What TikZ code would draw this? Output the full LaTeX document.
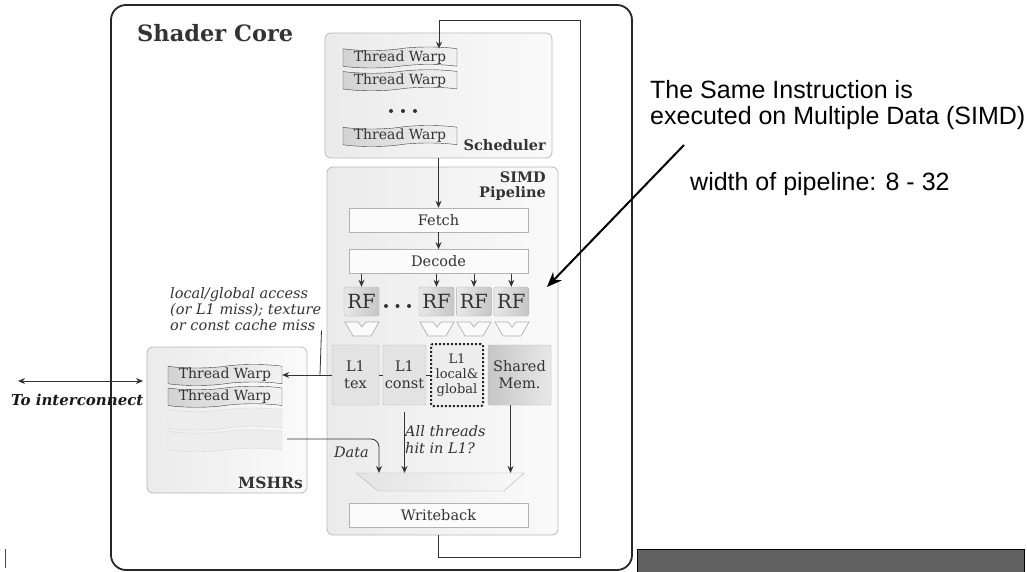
\documentclass[tikz,border=0pt]{standalone}
\usepackage{fontspec}
\setmainfont{DejaVu Serif}
\newfontfamily\notefont{Liberation Sans}
\usetikzlibrary{arrows.meta,shapes.symbols,shapes.geometric,positioning}

\begin{document}
\begin{tikzpicture}[
        x=1pt, y=-1pt,
        >={Stealth[length=7pt,width=6pt]},
        every node/.style={text=black!80, inner sep=0pt},
        core/.style={draw=black!85, line width=1.8pt, rounded corners=15pt, fill=white},
        panel/.style={draw=gray!55, line width=0.8pt, rounded corners=6pt, left color=gray!16, right color=gray!4},
        warp/.style={tape, draw=black!75, left color=gray!35, right color=gray!10, minimum width=114pt, minimum height=21pt, tape bend height=3.5pt, font=\fontsize{14}{14}\selectfont},
        ghost/.style={tape, draw=gray!30, fill=gray!14, minimum width=114pt, minimum height=22pt, tape bend height=3.5pt},
        stage/.style={draw=gray!60, fill=gray!3, minimum width=179pt, minimum height=24pt, font=\fontsize{14.5}{14.5}\selectfont},
        rf/.style={draw=gray!60, left color=gray!18, right color=gray!45, rounded corners=1.5pt, minimum width=35pt, minimum height=29pt, font=\fontsize{19.5}{19.5}\selectfont},
        cache/.style={draw=gray!55, fill=gray!22, rounded corners=2pt, minimum height=60pt, align=center, font=\fontsize{14.5}{17}\selectfont},
        alu/.style={draw=gray!60, fill=gray!4, line width=0.7pt},
        title/.style={font=\bfseries\fontsize{14.5}{15}\selectfont},
        note/.style={font=\itshape\fontsize{14.5}{16}\selectfont, align=left},
        wire/.style={draw=black!80, line width=0.8pt}
    ]
    \useasboundingbox (0,0) rectangle (1027,572);

    % Boxes
    \node (core)[core, minimum width=521pt, minimum height=565pt] at (371.5,287.5) {};
    \node (coretitle)[anchor=base west, font=\bfseries\fontsize{22.5}{22.5}\selectfont] at (137,42) {Shader Core};
    \node (sched)[panel, minimum width=227pt, minimum height=125pt] at (438.5,95.5) {};
    \node (simd)[panel, minimum width=231pt, minimum height=368pt] at (442.5,351) {};
    \node (mshr)[panel, minimum width=160pt, minimum height=146pt] at (227,420) {};

    \node (schedlbl)[title, anchor=base east] at (546,151) {Scheduler};
    \node (simdlbl)[title, anchor=north east, align=right] at (546,172) {SIMD\\Pipeline};
    \node (mshrlbl)[title, anchor=base east, font=\bfseries\fontsize{15.5}{16}\selectfont] at (303,488) {MSHRs};

    % Scheduler warps
    \node (tw1)[warp] at (400,57.5) {Thread Warp};
    \node (tw2)[warp, below=5pt of tw1] {Thread Warp};
    \node (tw3)[warp] at (400,136) {Thread Warp};
    \foreach \i in {0,1,2}
        \fill[black!80] (391+12*\i,111) circle (2pt);

    % Pipeline
    \node (fetch)[stage] at (438.5,220) {Fetch};
    \node (decode)[stage, below=17pt of fetch] {Decode};
    \node (rf1)[rf] at (361.5,301.5) {RF};
    \node (rf2)[rf] at (436.5,301.5) {RF};
    \node (rf3)[rf, right=2pt of rf2] {RF};
    \node (rf4)[rf, right=2pt of rf3] {RF};
    \foreach \i in {0,1,2}
        \fill[black!80] (386+11.5*\i,306) circle (2pt);
    \foreach \c in {362,437,474,512}
        \draw[alu] (\c-17,322) -- ++(13,0) -- ++(4,5) -- ++(4,-5) -- ++(13,0) -- ++(-8,14) -- ++(-18,0) -- cycle;

    \node (tex)[cache, minimum width=47pt] at (355.5,375) {L1\\tex};
    \node (const)[cache, minimum width=43pt] at (404.5,375) {L1\\const};
    \node (local)[cache, minimum width=52pt, minimum height=62pt, draw=black!85, dotted, line width=2pt, fill=gray!14,
        font=\fontsize{13}{15}\selectfont] at (457,375) {L1\\local\&\\global};
    \node (shared)[cache, minimum width=63pt, left color=gray!45, right color=gray!18] at (519.5,375) {Shared\\Mem.};

    % merge stage
    \draw[draw=gray!60, left color=gray!22, right color=gray!5] (356,473) -- (524,473) -- (504,491) -- (378,491) -- cycle;
    \coordinate (mux) at (440,473);
    \node (wb)[stage] at (438.5,515) {Writeback};

    % MSHRs
    \node (mw1)[warp] at (225,375) {Thread Warp};
    \node (mw2)[warp, below=4pt of mw1] {Thread Warp};
    \node (g1)[ghost, below=4pt of mw2] {};
    \node (g2)[ghost, below=3pt of g1] {};

    % Notes
    \node (missnote)[note, anchor=north west] at (170,287) {local/global access\\(or L1 miss); texture\\or const cache miss};
    \node (datalbl)[note, anchor=base east] at (369,457) {Data};
    \node (hitlbl)[note, anchor=north west, font=\itshape\fontsize{14.5}{17}\selectfont] at (405,425) {All threads\\hit in L1?};
    \node (iclbl)[anchor=base west, font=\bfseries\itshape\fontsize{15}{15}\selectfont, text=black!90] at (11,405) {To interconnect};
    \node (simdnote)[anchor=north west, align=left, text=black, font=\notefont\fontsize{25}{26}\selectfont] at (650,80)
        {The Same Instruction is\\executed on Multiple Data (SIMD)};
    \node (widthnote)[anchor=base west, text=black, font=\notefont\fontsize{25}{25}\selectfont] at (690,190) {width of pipeline: 8 - 32};

    \coordinate (loopbr) at (580,557);
    \coordinate (looptr) at (580,20);
    \coordinate (looptl) at (439,20);
    \coordinate (datasrc) at (287,439);
    \coordinate (missjoin) at (320,375);
    \coordinate (icl) at (18,381);
    \coordinate (icr) at (143,381);
    \coordinate (ptrstart) at (684,145);
    \coordinate (ptrend) at (547,287);

    % Edges
    \draw[wire,->] (sched.south -| fetch.north) -- (fetch.north);
    \draw[wire,->] (fetch) -- (decode);
    \foreach \r in {rf1,rf2,rf3,rf4}
        \draw[wire,->] (decode.south -| \r.north) -- (\r.north);
    \draw[wire] (tex.east) -- (const.west);
    \draw[wire] (const.east) -- (local.west);
    \draw[wire,->] (tex.west) -- (mw1.east);
    \draw[wire] (missnote.south east) -- (missjoin);
    \draw[wire,->,rounded corners=8pt] (datasrc) -| ([xshift=-61pt]mux);
    \draw[wire,->] ([yshift=-7pt]const.south) -- (const.south |- mux);
    \draw[wire,->] ([xshift=-9pt]shared.south) -- ([xshift=-9pt]shared.south |- mux);
    \draw[wire,->] (simd.south -| wb.south) |- (loopbr) -- (looptr) -- (looptl) -- (looptl |- tw1.north);
    \draw[wire,<->] (icl) -- (icr);
    \draw[line width=2pt, -{Stealth[length=15pt,width=12pt]}] (ptrstart) -- (ptrend);

    % Slide leftovers
    \draw[black!70, line width=1pt] (5,549) -- (5,568);
    \draw[black, fill=black!62] (637,549) rectangle (1024,580);

\end{tikzpicture}
\end{document}
